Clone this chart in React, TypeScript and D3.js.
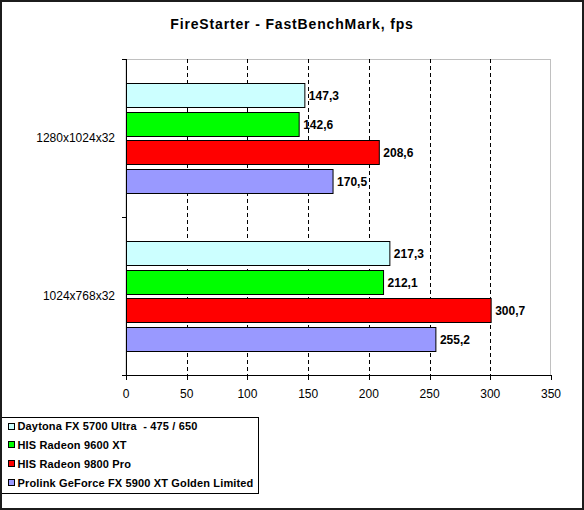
import * as d3 from 'd3';

const CATEGORIES = ['1280x1024x32', '1024x768x32'];
const SERIES = [
  'Daytona FX 5700 Ultra  - 475 / 650',
  'HIS Radeon 9600 XT',
  'HIS Radeon 9800 Pro',
  'Prolink GeForce FX 5900 XT Golden Limited',
];
const COLORS = ['#ccffff', '#00ff00', '#ff0000', '#9999ff'];
// values per series, in category order
const DAYTONA = [147.3, 217.3];
const HIS_9600 = [142.6, 212.1];
const HIS_9800 = [208.6, 300.7];
const PROLINK = [170.5, 255.2];
const VALUES = [DAYTONA, HIS_9600, HIS_9800, PROLINK];
const X_TICKS = [0, 50, 100, 150, 200, 250, 300, 350];

const W = 584;
const H = 510;
const PLOT = { left: 126, right: 551, top: 59, bottom: 375 };
const FONT = "'Liberation Sans', Arial, sans-serif";

const fmt = (v: number) => v.toFixed(1).replace('.', ',');

export default function App() {
  const x = d3.scaleLinear().domain([0, 350]).range([PLOT.left, PLOT.right]);
  const y = d3
    .scaleBand<string>()
    .domain(CATEGORIES)
    .range([PLOT.top, PLOT.bottom])
    .padding(0);
  const inner = d3
    .scaleBand<number>()
    .domain(d3.range(SERIES.length))
    .range([0, y.bandwidth()])
    .paddingInner(0.164)
    .paddingOuter(0.83);

  const legendY = (i: number) => 426.5 + i * 18.8;

  return (
    <svg
      width={W}
      height={H}
      style={{ position: 'fixed', left: 0, top: 0, background: '#fff' }}
      fontFamily={FONT}
    >
      <rect x={0} y={0} width={W} height={H} fill="#fff" />

      <text
        x={292}
        y={24}
        dy="0.35em"
        textAnchor="middle"
        fontWeight="bold"
        fontSize={14}
        letterSpacing={0.85}
        fill="#000"
      >
        FireStarter - FastBenchMark, fps
      </text>

      {/* plot area frame */}
      <rect
        x={PLOT.left}
        y={PLOT.top + 0.5}
        width={PLOT.right - PLOT.left - 0.5}
        height={PLOT.bottom - PLOT.top}
        fill="#fff"
        stroke="#c0c0c0"
        strokeWidth={1}
      />

      {/* gridlines */}
      {X_TICKS.filter((t) => t > 0 && t < 350).map((t) => (
        <line
          key={`g${t}`}
          x1={Math.round(x(t)) + 0.5}
          x2={Math.round(x(t)) + 0.5}
          y1={PLOT.top}
          y2={PLOT.bottom}
          stroke="#000"
          strokeDasharray="4,3"
        />
      ))}

      {/* bars */}
      {CATEGORIES.map((cat, ci) => (
        <g key={cat} transform={`translate(0,${y(cat)})`}>
          {VALUES.map((vals, si) => {
            const by = Math.round(inner(si) ?? 0) + 0.5;
            const bh = Math.round(inner.bandwidth());
            const bx = x(0) + 0.5;
            const bw = x(vals[ci]) - x(0) - 0.5;
            return (
              <g key={si}>
                <rect
                  x={bx}
                  y={by}
                  width={bw}
                  height={bh}
                  fill={COLORS[si]}
                  stroke="#000"
                  strokeWidth={1}
                />
                <text
                  x={x(vals[ci]) + 4}
                  y={by + bh / 2}
                  dy="0.35em"
                  fontSize={12}
                  fontWeight="bold"
                  fill="#000"
                >
                  {fmt(vals[ci])}
                </text>
              </g>
            );
          })}
        </g>
      ))}

      {/* y axis */}
      <line x1={PLOT.left + 0.5} x2={PLOT.left + 0.5} y1={PLOT.top} y2={PLOT.bottom} stroke="#000" />
      {[PLOT.top, ...CATEGORIES.slice(1).map((c) => y(c) ?? 0), PLOT.bottom].map((ty, i) => (
        <line
          key={`yt${i}`}
          x1={PLOT.left - 4}
          x2={PLOT.left}
          y1={Math.round(ty) + 0.5}
          y2={Math.round(ty) + 0.5}
          stroke="#000"
        />
      ))}
      {CATEGORIES.map((cat) => (
        <text
          key={`yl${cat}`}
          x={115}
          y={(y(cat) ?? 0) + y.bandwidth() / 2}
          dy="0.35em"
          textAnchor="end"
          fontSize={12}
          fill="#000"
        >
          {cat}
        </text>
      ))}

      {/* x axis */}
      <line x1={PLOT.left - 4} x2={PLOT.right} y1={PLOT.bottom + 0.5} y2={PLOT.bottom + 0.5} stroke="#000" />
      {X_TICKS.map((t) => (
        <g key={`xt${t}`}>
          <line
            x1={Math.round(x(t)) + 0.5}
            x2={Math.round(x(t)) + 0.5}
            y1={PLOT.bottom}
            y2={PLOT.bottom + 5}
            stroke="#000"
          />
          <text x={x(t)} y={394} dy="0.35em" textAnchor="middle" fontSize={12} fill="#000">
            {t}
          </text>
        </g>
      ))}

      {/* legend */}
      <rect x={1.5} y={417.5} width={257} height={76} fill="#fff" stroke="#000" />
      {SERIES.map((s, i) => (
        <g key={s}>
          <rect
            x={8.5}
            y={Math.round(legendY(i)) - 3.5}
            width={6}
            height={6}
            fill={COLORS[i]}
            stroke="#000"
          />
          <text
            x={17.5}
            y={legendY(i)}
            dy="0.35em"
            fontSize={11}
            fontWeight="bold"
            letterSpacing={0.15}
            fill="#000"
            style={{ whiteSpace: 'pre' }}
          >
            {s}
          </text>
        </g>
      ))}

      {/* outer frame */}
      <rect x={1} y={1} width={W - 2} height={H - 2} fill="none" stroke="#1c1c1c" strokeWidth={2} />
    </svg>
  );
}
